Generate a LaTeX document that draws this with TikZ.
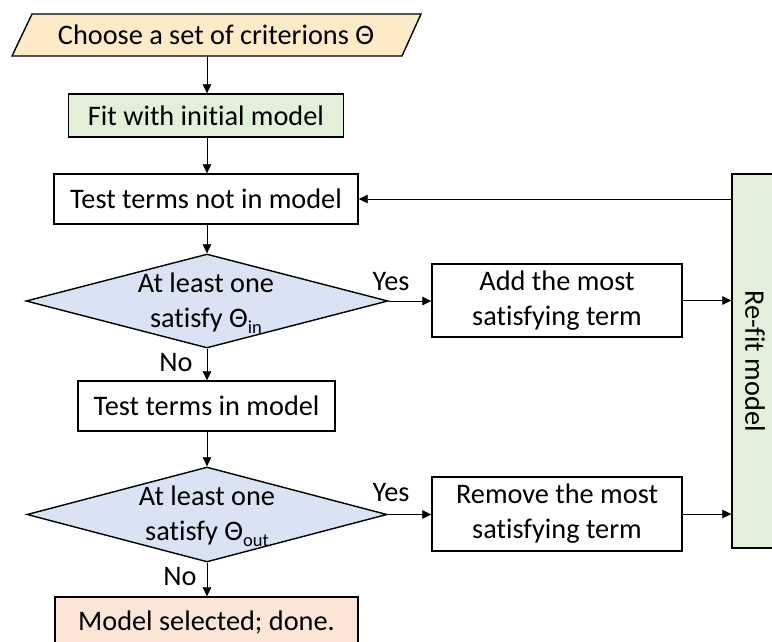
\documentclass[tikz,border=0pt]{standalone}
\usepackage{fontspec}
\setmainfont{Carlito}[Ligatures=NoCommon]
\usetikzlibrary{arrows.meta,shapes.geometric}
\definecolor{cyellow}{HTML}{FCEBC6}
\definecolor{cgreen}{HTML}{E2F0D9}
\definecolor{cblue}{HTML}{DAE3F3}
\definecolor{corange}{HTML}{FBE5D6}
\newcommand{\subtxt}[1]{{\fontsize{18.5}{18.5}\selectfont\raisebox{-6pt}{#1}}}
\begin{document}
\begin{tikzpicture}[x=1pt,y=-1pt,
  every node/.style={font=\fontsize{28.3}{35}\selectfont, inner sep=0pt},
  box/.style={draw, line width=1.4pt, rectangle, align=center},
  dia/.style={draw, line width=1.4pt, diamond, fill=cblue},
  conn/.style={line width=0.8pt, -{Triangle[length=9pt,width=8.5pt]}},
  lbl/.style={anchor=center}]
\useasboundingbox (0,0) rectangle (772,641);
% parallelogram
\draw[line width=1.4pt, fill=cyellow] (32,14) -- (421,14) -- (402,56) -- (12,56) -- cycle;
\node (choose) at (216,35) {Choose a set of criterions Θ};
\coordinate (chooseb) at (207,56);
\node[box, fill=cgreen, minimum width=275, minimum height=43] (fit) at (206,115.5) {Fit with initial model};
\node[box, fill=white, minimum width=304, minimum height=50] (test1) at (206,199) {Test terms not in model};
\node[dia, minimum width=362, minimum height=94] (d1) at (207,301) {};
\node[align=center] (d1t) at (206,303) {At least one\\satisfy Θ\subtxt{in}};
\node[box, fill=white, minimum width=250, minimum height=73] (add) at (557,300.5) {Add the most\\satisfying term};
\node[box, fill=cgreen, minimum width=50, minimum height=374] (refit) at (757,361) {};
\node[rotate=-90] (refitt) at (755,361) {Re-fit model};
\node[box, fill=white, minimum width=257, minimum height=50] (test2) at (206.5,406) {Test terms in model};
\node[dia, minimum width=360, minimum height=95] (d2) at (207,514.5) {};
\node[align=center] (d2t) at (207,516) {At least one\\satisfy Θ\subtxt{out}};
\node[box, fill=white, minimum width=250, minimum height=74] (rem) at (557,514) {Remove the most\\satisfying term};
\node[box, fill=corange, minimum width=303, minimum height=50] (done) at (206.5,622) {Model selected; done.};
% labels
\node[lbl] (y1) at (391,282) {Yes};
\node[lbl] (y2) at (391,493) {Yes};
\node[lbl] (n1) at (176,363) {No};
\node[lbl] (n2) at (180,577) {No};
% connectors
\draw[conn] (chooseb) -- (fit.north -| chooseb);
\draw[conn] (fit.south -| chooseb) -- (test1.north -| chooseb);
\draw[conn] (test1.south -| chooseb) -- (d1.north);
\draw[conn] (d1.south) -- (test2.north -| d1.south);
\draw[conn] (test2.south -| d2.north) -- (d2.north);
\draw[conn] (d2.south) -- (done.north -| d2.south);
\draw[conn] (d1.east) -- (add.west |- d1.east);
\draw[conn] (d2.east) -- (rem.west |- d2.east);
\draw[conn] (add.east) -- (add.east -| refit.west);
\draw[conn] (rem.east) -- (rem.east -| refit.west);
\draw[conn] (refit.west |- test1.east) -- (test1.east);
\end{tikzpicture}
\end{document}
